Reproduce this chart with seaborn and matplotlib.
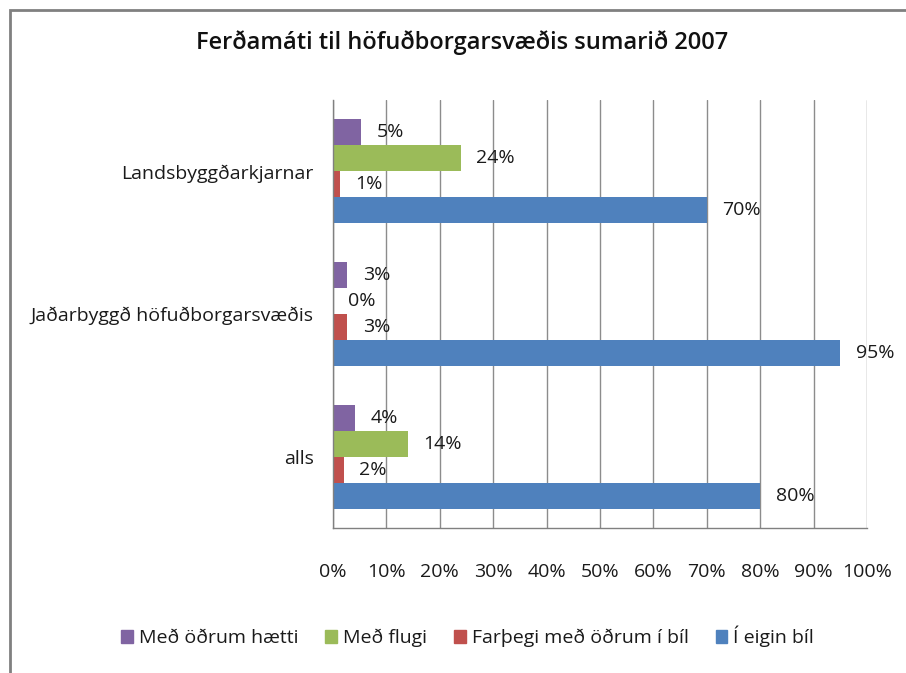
import matplotlib
matplotlib.use('Agg')
import matplotlib.pyplot as plt
import matplotlib.patches as mpatches
import seaborn as sns
import pandas as pd

categories = ['Landsbyggðarkjarnar', 'Jaðarbyggð höfuðborgarsvæðis', 'alls']
series = ['Með öðrum hætti', 'Með flugi', 'Farþegi með öðrum í bíl', 'Í eigin bíl']
# bar lengths (%) per series, in category order
annad = [5.3, 2.7, 4.2]
flug = [24, 0, 14]
farthegi = [1.3, 2.7, 2.0]
eigin = [70, 95, 80]
# labels as printed on the chart
label_annad = ['5%', '3%', '4%']
label_flug = ['24%', '0%', '14%']
label_farthegi = ['1%', '3%', '2%']
label_eigin = ['70%', '95%', '80%']
colors = ['#8064A2', '#9BBB59', '#C0504D', '#4F81BD']

rows = []
for s, vals, labs in zip(series, [annad, flug, farthegi, eigin],
                         [label_annad, label_flug, label_farthegi, label_eigin]):
    for c, v, l in zip(categories, vals, labs):
        rows.append({'flokkur': c, 'ferdamati': s, 'hlutfall': v, 'merki': l})
df = pd.DataFrame(rows)

sns.set_style('white')
plt.rcParams['font.family'] = ['Open Sans', 'DejaVu Sans']

fig = plt.figure(figsize=(9.06, 6.73), dpi=100)
ax = fig.add_axes([0.3675, 0.2155, 0.5895, 0.6359])

sns.barplot(data=df, y='flokkur', x='hlutfall', hue='ferdamati', order=categories,
            hue_order=series, palette=colors, orient='h', width=0.73,
            saturation=1, legend=False, ax=ax, edgecolor='none')

# data labels
for cont, s in zip(ax.containers, series):
    sub = df[df['ferdamati'] == s].set_index('flokkur').loc[categories]
    ax.bar_label(cont, labels=list(sub['merki']), padding=11, fontsize=14,
                 color='#1a1a1a', label_type='edge')

ax.set_xlim(0, 100)
ax.set_ylim(2.5, -0.5)
ax.set_xticks(range(0, 101, 10))
ax.set_xticklabels([f'{t}%' for t in range(0, 101, 10)], fontsize=14)
ax.set_xlabel('')
ax.set_ylabel('')
ax.tick_params(axis='y', labelsize=14, length=0, pad=14, labelcolor='#1a1a1a')
ax.set_yticks([-0.5, 0.5, 1.5, 2.5], minor=True)
ax.tick_params(axis='y', which='minor', length=6, color='#808080', direction='out')
ax.tick_params(axis='x', length=6, color='#808080', direction='inout', pad=22,
               labelcolor='#1a1a1a')
ax.grid(axis='x', color='#8c8c8c', linewidth=1)
ax.set_axisbelow(True)
for side in ['top', 'right']:
    ax.spines[side].set_visible(False)
for side in ['left', 'bottom']:
    ax.spines[side].set_color('#808080')
    ax.spines[side].set_linewidth(1)

fig.suptitle('Ferðamáti til höfuðborgarsvæðis sumarið 2007', x=0.51, y=0.955,
             fontsize=17, fontweight='semibold', color='#111111')

handles = [mpatches.Patch(color=c, label=s) for c, s in zip(colors, series)]
fig.legend(handles=handles, loc='center', bbox_to_anchor=(0.516, 0.054), ncol=4,
           frameon=False, fontsize=14, handlelength=0.6, handleheight=0.6,
           handletextpad=0.3, columnspacing=1.4, labelcolor='#1a1a1a')

# chart frame
fig.patches.append(mpatches.Rectangle((10 / 906, -0.1), 1.2, 1 - 10 / 673 + 0.1,
                                      transform=fig.transFigure, fill=False,
                                      edgecolor='#808080', linewidth=2))

fig.savefig('out.png', dpi=100)
